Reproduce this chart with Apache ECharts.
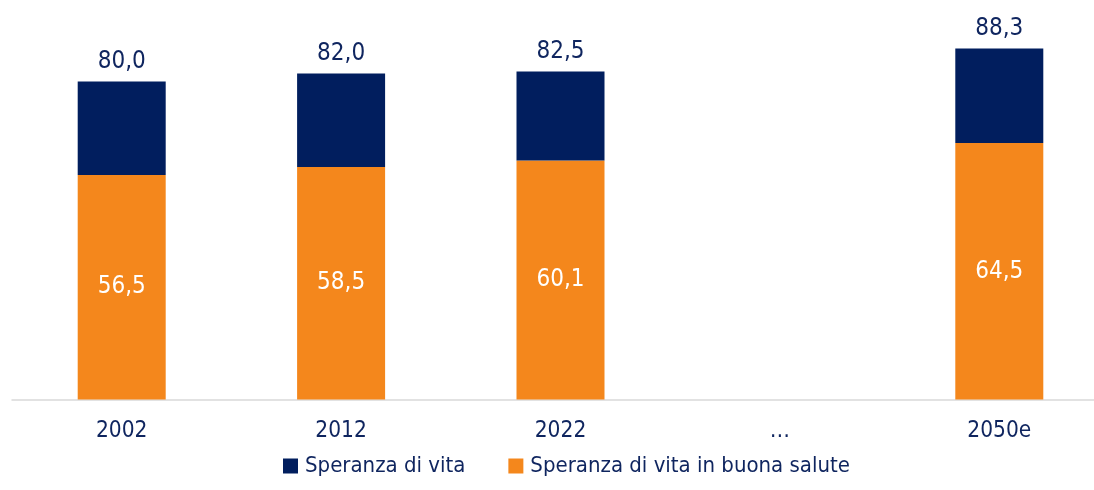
<!DOCTYPE html>
<html>
<head>
<meta charset="utf-8">
<script src="https://cdn.jsdelivr.net/npm/echarts@6/dist/echarts.min.js"></script>
<style>
  html, body { margin: 0; padding: 0; background: #fff; overflow: hidden; }
  #chart { width: 1110px; height: 490px; }
</style>
</head>
<body>
<div id="chart"></div>
<script>
// dati
var categories = ["2002", "2012", "2022", "…", "2050e"];
var speranzaVita = [80.0, 82.0, 82.5, null, 88.3];
var buonaSalute = [56.5, 58.5, 60.1, null, 64.5];

var navy = "#011e5e";
var orange = "#f4871c";
var textColor = "#0f255f";
var font = "'DejaVu Sans Condensed', 'Liberation Sans Narrow', sans-serif";

function fmt(v) {
  return v.toFixed(1).replace(".", ",");
}

// la parte blu è la differenza tra speranza di vita e quella in buona salute
var diff = speranzaVita.map(function (v, i) {
  return v == null ? "-" : +(v - buonaSalute[i]).toFixed(1);
});
var healthy = buonaSalute.map(function (v) {
  return v == null ? "-" : v;
});

var myChart = echarts.init(document.getElementById("chart"));
myChart.setOption({
  animation: false,
  textStyle: { fontFamily: font },
  grid: {
    left: 12,
    width: 1097,
    top: 2,
    height: 397.5,
  },
  legend: {
    bottom: 13,
    left: 283,
    padding: 0,
    itemWidth: 15,
    itemHeight: 15,
    itemGap: 43,
    icon: "rect",
    data: ["Speranza di vita", "Speranza di vita in buona salute"],
    textStyle: {
      color: textColor,
      fontSize: 22,
      fontFamily: font,
      padding: [0, 0, 0, 2],
    },
  },
  xAxis: {
    type: "category",
    data: categories,
    axisLine: { lineStyle: { color: "#d9d9d9", width: 1.5 } },
    axisTick: { show: false },
    axisLabel: {
      color: textColor,
      fontSize: 22.5,
      fontFamily: font,
      margin: 20,
    },
  },
  yAxis: {
    type: "value",
    min: 0,
    max: 100,
    show: false,
    splitLine: { show: false },
  },
  series: [
    {
      name: "Speranza di vita in buona salute",
      type: "bar",
      stack: "tot",
      data: healthy,
      barWidth: 88,
      itemStyle: { color: orange },
      label: {
        show: true,
        position: "inside",
        color: "#fff",
        fontSize: 24,
        fontFamily: font,
        formatter: function (p) {
          return fmt(p.value);
        },
      },
    },
    {
      name: "Speranza di vita",
      type: "bar",
      stack: "tot",
      data: diff,
      barWidth: 88,
      itemStyle: { color: navy },
      label: {
        show: true,
        position: "top",
        distance: 8,
        color: textColor,
        fontSize: 24,
        fontFamily: font,
        formatter: function (p) {
          return fmt(speranzaVita[p.dataIndex]);
        },
      },
    },
  ],
});
</script>
</body>
</html>
